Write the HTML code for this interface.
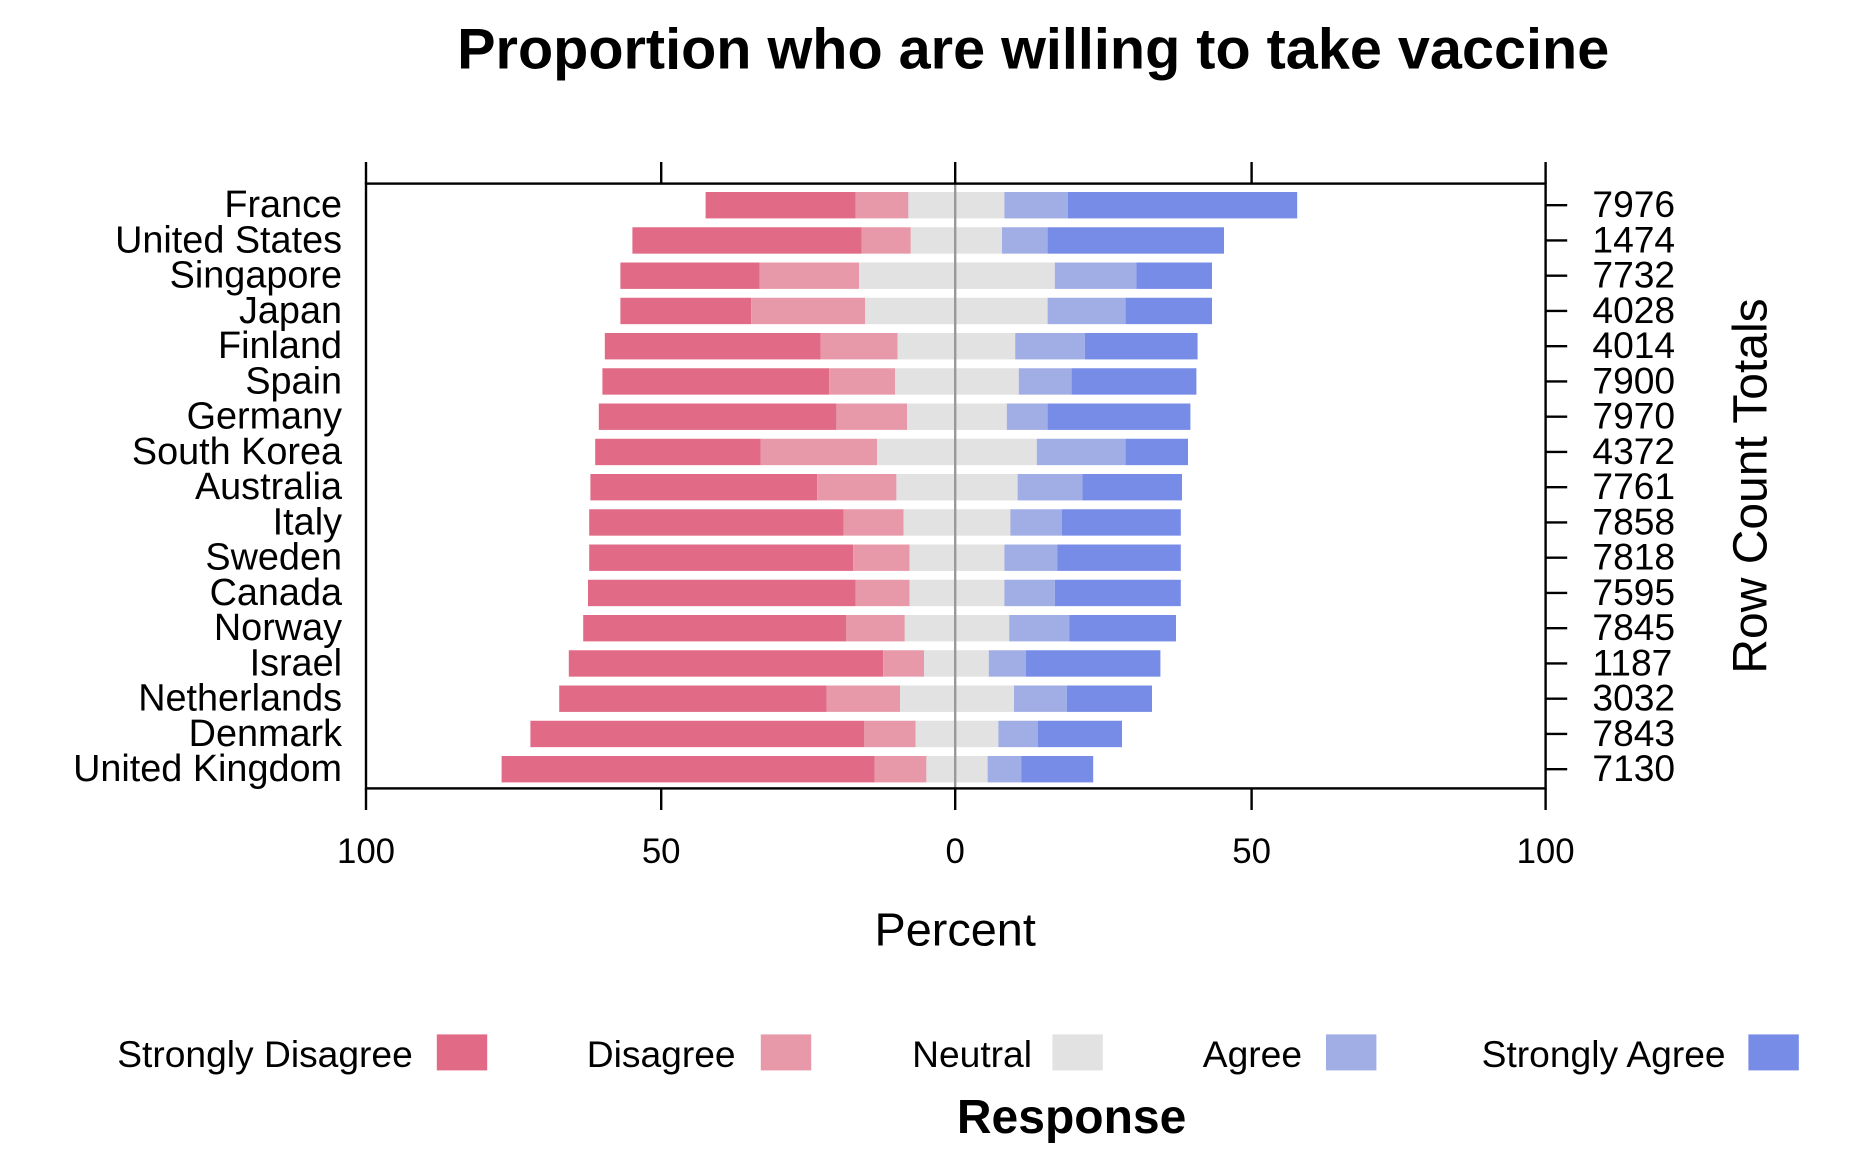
<!DOCTYPE html>
<html><head><meta charset="utf-8"><style>
html,body{margin:0;padding:0;background:#fff;}
svg{display:block;font-family:"Liberation Sans",Arial,sans-serif;}
</style></head><body>
<svg width="1872" height="1152" viewBox="0 0 1560 960" xmlns="http://www.w3.org/2000/svg">
<rect width="1560" height="960" fill="#fff"/>
<text x="861" y="57" font-size="48" font-weight="bold" text-anchor="middle">Proportion who are willing to take vaccine</text>
<g id="bars"></g>
<line x1="796" y1="153" x2="796" y2="657" stroke="#999" stroke-width="2"/>
<rect x="305" y="153" width="983" height="504" fill="none" stroke="#000" stroke-width="2"/>
<g stroke="#000" stroke-width="2">
<line x1="305" y1="135" x2="305" y2="153"/><line x1="551" y1="135" x2="551" y2="153"/><line x1="796" y1="135" x2="796" y2="153"/><line x1="1043" y1="135" x2="1043" y2="153"/><line x1="1288" y1="135" x2="1288" y2="153"/>
<line x1="305" y1="657" x2="305" y2="675"/><line x1="551" y1="657" x2="551" y2="675"/><line x1="796" y1="657" x2="796" y2="675"/><line x1="1043" y1="657" x2="1043" y2="675"/><line x1="1288" y1="657" x2="1288" y2="675"/>
</g>
<g font-size="29" text-anchor="middle">
<text x="305" y="719">100</text><text x="551" y="719">50</text><text x="796" y="719">0</text><text x="1043" y="719">50</text><text x="1288" y="719">100</text>
</g>
<text x="796" y="788" font-size="39" text-anchor="middle">Percent</text>
<text transform="translate(1472,405) rotate(-90)" font-size="40" text-anchor="middle">Row Count Totals</text>
<g id="rows"></g>
<g font-size="31" text-anchor="end">
<text x="344" y="889">Strongly Disagree</text><text x="613" y="889">Disagree</text><text x="860" y="889">Neutral</text><text x="1085" y="889">Agree</text><text x="1438" y="889">Strongly Agree</text>
</g>
<rect x="364" y="862" width="42" height="30" fill="#E16A86"/>
<rect x="634" y="862" width="42" height="30" fill="#E799A9"/>
<rect x="877" y="862" width="42" height="30" fill="#E2E2E2"/>
<rect x="1105" y="862" width="42" height="30" fill="#A1AEE5"/>
<rect x="1457" y="862" width="42" height="30" fill="#778CE6"/>
<text x="893" y="944" font-size="40" font-weight="bold" text-anchor="middle">Response</text>
<script>
var d=[["France",7976,588,713,757,837,890,1081],["United States",1474,527,718,759,835,873,1020],["Singapore",7732,517,633,716,879,947,1010],["Japan",4028,517,626,721,873,938,1010],["Finland",4014,504,684,748,846,904,998],["Spain",7900,502,691,746,849,893,997],["Germany",7970,499,697,756,839,873,992],["South Korea",4372,496,634,731,864,938,990],["Australia",7761,492,681,747,848,902,985],["Italy",7858,491,703,753,842,885,984],["Sweden",7818,491,711,758,837,881,984],["Canada",7595,490,713,758,837,879,984],["Norway",7845,486,705,754,841,891,980],["Israel",1187,474,736,770,824,855,967],["Netherlands",3032,466,689,750,845,889,960],["Denmark",7843,442,720,763,832,865,935],["United Kingdom",7130,418,729,772,823,851,911]];
var c=["#E16A86","#E799A9","#E2E2E2","#A1AEE5","#778CE6"];
var ns="http://www.w3.org/2000/svg",b=document.getElementById("bars"),r=document.getElementById("rows");
function el(p,t,a,tx){var e=document.createElementNS(ns,t);for(var k in a)e.setAttribute(k,a[k]);if(tx)e.textContent=tx;p.appendChild(e);}
d.forEach(function(row,i){var cy=171+29.375*i;
for(var j=0;j<5;j++){el(b,"rect",{x:row[2+j],y:cy-11,width:row[3+j]-row[2+j],height:22,fill:c[j]});}
el(r,"text",{x:285,y:cy+10,"font-size":31.5,"text-anchor":"end"},row[0]);
el(r,"text",{x:1327,y:cy+10,"font-size":31},String(row[1]));
el(r,"line",{x1:1288,y1:cy,x2:1306,y2:cy,stroke:"#000","stroke-width":2});
});
</script>
</svg>
</body></html>
